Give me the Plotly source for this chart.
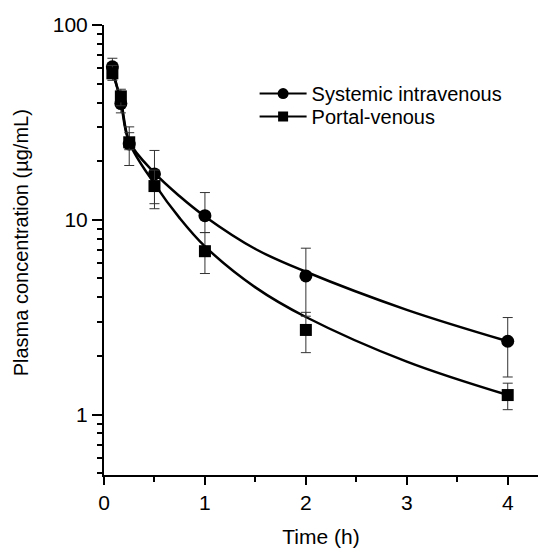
import plotly.graph_objects as go

# ---- data ----
time_h = [0.083, 0.167, 0.25, 0.5, 1, 2, 4]

sys_mean = [61.0, 39.5, 24.5, 17.2, 10.5, 5.15, 2.38]
sys_upper = [67.5, 44.0, 30.0, 22.7, 13.8, 7.15, 3.15]
sys_lower = [55.0, 35.4, 19.0, 12.1, 8.6, 3.2, 1.56]

por_mean = [56.5, 43.0, 25.0, 14.9, 6.9, 2.72, 1.26]
por_upper = [62.0, 46.8, 28.0, 18.0, 8.6, 3.35, 1.45]
por_lower = [52.0, 38.5, 22.9, 11.4, 5.3, 2.08, 1.06]

# fitted curves
curve_t = [0.083, 0.167, 0.25, 0.5, 0.75, 1, 1.5, 2, 3, 4]
sys_curve = [60.0, 40.0, 25.2, 17.4, 13.2, 10.4, 7.08, 5.41, 3.45, 2.38]
por_curve = [57.0, 41.0, 25.0, 15.3, 10.2, 7.3, 4.5, 3.17, 1.87, 1.26]

labels = ["Systemic intravenous", "Portal-venous"]
x_ticks = [0, 1, 2, 3, 4]
x_minor = [0.5, 1.5, 2.5, 3.5]
y_ticks = [1, 10, 100]
y_minor = [0.5, 0.6, 0.7, 0.8, 0.9, 2, 3, 4, 5, 6, 7, 8, 9,
           20, 30, 40, 50, 60, 70, 80, 90]
y_title = "Plasma concentration (µg/mL)"

FONT = "Liberation Sans, Arial, sans-serif"

fig = go.Figure()

for curve in (sys_curve, por_curve):
    fig.add_trace(go.Scatter(x=curve_t, y=curve, mode="lines",
                             line=dict(color="black", width=2.5, shape="spline", smoothing=1.0),
                             showlegend=False, hoverinfo="skip"))

series = [
    (sys_mean, sys_upper, sys_lower, "circle", 13),
    (por_mean, por_upper, por_lower, "square", 12),
]
for (mean, up, lo, sym, sz), name in zip(series, labels):
    fig.add_trace(go.Scatter(
        x=time_h, y=mean, mode="markers", name=name, showlegend=False,
        marker=dict(symbol=sym, size=sz, color="black"),
        error_y=dict(type="data", symmetric=False,
                     array=[u - m for u, m in zip(up, mean)],
                     arrayminus=[m - l for m, l in zip(mean, lo)],
                     color="#333333", thickness=1, width=5),
    ))

# legend-only entries (one legend per row for exact spacing)
for name, sym, sz, lg in ((labels[0], "circle", 11, "legend"), (labels[1], "square", 10, "legend2")):
    fig.add_trace(go.Scatter(x=[None], y=[None], mode="lines+markers", name=name,
                             legend=lg,
                             line=dict(color="black", width=2),
                             marker=dict(symbol=sym, size=sz, color="black")))

legend_common = dict(xanchor="left", yanchor="top", bgcolor="rgba(0,0,0,0)",
                     font=dict(size=20), itemwidth=47)

fig.update_layout(
    width=538, height=548,
    margin=dict(l=104, r=0, t=25, b=73),
    paper_bgcolor="white", plot_bgcolor="white",
    font=dict(family=FONT, size=20, color="black"),
    showlegend=True,
    legend=dict(x=0.347, y=0.891, **legend_common),
    legend2=dict(x=0.347, y=0.84, **legend_common),
    xaxis=dict(range=[0, 4.3], showline=True, linewidth=2, linecolor="black",
               showgrid=False, zeroline=False,
               tickmode="array", tickvals=x_ticks, ticktext=[str(v) for v in x_ticks],
               tickfont=dict(size=21),
               ticks="outside", ticklen=8, tickwidth=2, tickcolor="black",
               minor=dict(tickmode="array", tickvals=x_minor, ticks="outside",
                          ticklen=5, tickwidth=2, tickcolor="black"),
               title=dict(text="Time (h)", standoff=18, font=dict(size=21))),
    yaxis=dict(type="log", range=[-0.31, 2], showline=True, linewidth=2, linecolor="black",
               showgrid=False, zeroline=False,
               tickmode="array", tickvals=y_ticks, ticktext=[str(v) for v in y_ticks],
               tickfont=dict(size=21),
               ticks="outside", ticklen=10, tickwidth=2, tickcolor="black",
               minor=dict(tickmode="array", tickvals=y_minor, ticks="outside",
                          ticklen=5, tickwidth=2, tickcolor="black")),
    annotations=[dict(text=y_title, textangle=-90, xref="paper", yref="paper",
                      x=-0.191, y=0.515, xanchor="center", yanchor="middle",
                      showarrow=False, font=dict(size=20))],
)

fig.write_html("out.html")
